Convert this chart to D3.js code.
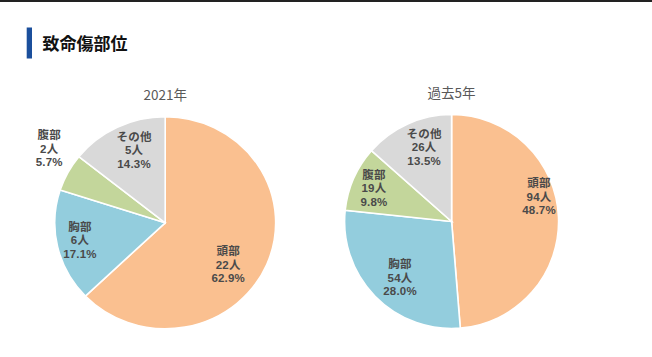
<!DOCTYPE html>
<html><head><meta charset="utf-8">
<script src="https://cdn.jsdelivr.net/npm/d3@7"></script>
<style>
html,body{margin:0;padding:0;background:#fff;}
svg{display:block;}
</style></head>
<body>
<svg id="chart" width="652" height="357"></svg>
<script>
// ---- data ----
const categories = ["頭部", "胸部", "腹部", "その他"];
const values2021 = [22, 6, 2, 5];
const values5yr = [94, 54, 19, 26];
const chartTitles = ["2021年", "過去5年"];
const mainTitle = "致命傷部位";
const colors = ["#FAC090", "#93CDDD", "#C3D69B", "#D9D9D9"];

// ---- layout (style/config, not data) ----
const layouts = [
  { cx: 165.2, cy: 222.8, r: 106, sx: 1.042, titleY: 100,
    labelR: [0.694, 0.789, 1.26, 0.742], angShift: [11.6, 0.9, 5.3, 3.4] },
  { cx: 451.6, cy: 221.5, r: 107, sx: 1.0, titleY: 98,
    labelR: [0.849, 0.715, 0.79, 0.742], angShift: [-13.4, -3.3, -0.5, 4] }
];
const fontFam = "'Noto Sans CJK JP','Noto Sans',sans-serif";
const labelFam = "'Liberation Sans','Noto Sans CJK JP',sans-serif";

const svg = d3.select("#chart");
svg.append("rect").attr("x",0).attr("y",0).attr("width",652).attr("height",2).attr("fill","#222");
svg.append("rect").attr("x",26.7).attr("y",27.5).attr("width",5.3).attr("height",31).attr("fill","#1B4F9C");
svg.append("text").attr("x",42.5).attr("y",49.5).attr("font-family",fontFam)
  .attr("font-size",17).attr("font-weight","bold").attr("fill","#111").text(mainTitle);

const pie = d3.pie().sort(null).value(d => d);
[values2021, values5yr].forEach((vals, i) => {
  const L = layouts[i];
  const total = d3.sum(vals);
  const arcs = pie(vals);
  const arc = d3.arc().innerRadius(0).outerRadius(L.r);
  const g = svg.append("g").attr("transform", `translate(${L.cx},${L.cy}) scale(${L.sx},1)`);
  g.selectAll("path").data(arcs).join("path")
    .attr("d", arc).attr("fill", (d, j) => colors[j])
    .attr("stroke", "#fff").attr("stroke-width", 1.6).attr("vector-effect","non-scaling-stroke");

  svg.append("text").attr("x", L.cx).attr("y", L.titleY).attr("text-anchor","middle")
    .attr("font-family", fontFam).attr("font-size", 13.5).attr("fill", "#595959").text(chartTitles[i]);

  arcs.forEach((d, j) => {
    const mid = (d.startAngle + d.endAngle) / 2 + L.angShift[j] * Math.PI / 180;
    const rr = L.r * L.labelR[j];
    const x = L.cx + Math.sin(mid) * rr * L.sx;
    const y = L.cy - Math.cos(mid) * rr;
    const pct = (vals[j] / total * 100).toFixed(1) + "%";
    const lines = [categories[j], vals[j] + "人", pct];
    lines.forEach((s, k) => {
      svg.append("text").attr("text-anchor","middle")
        .attr("font-family", labelFam).attr("font-size", 11.5).attr("font-weight", "bold")
        .attr("letter-spacing", 0.2)
        .attr("fill", "#4a4a4a")
        .attr("x", x).attr("y", y + (k - 1) * 13.5 + 4).text(s);
    });
  });
});
</script>
</body></html>
